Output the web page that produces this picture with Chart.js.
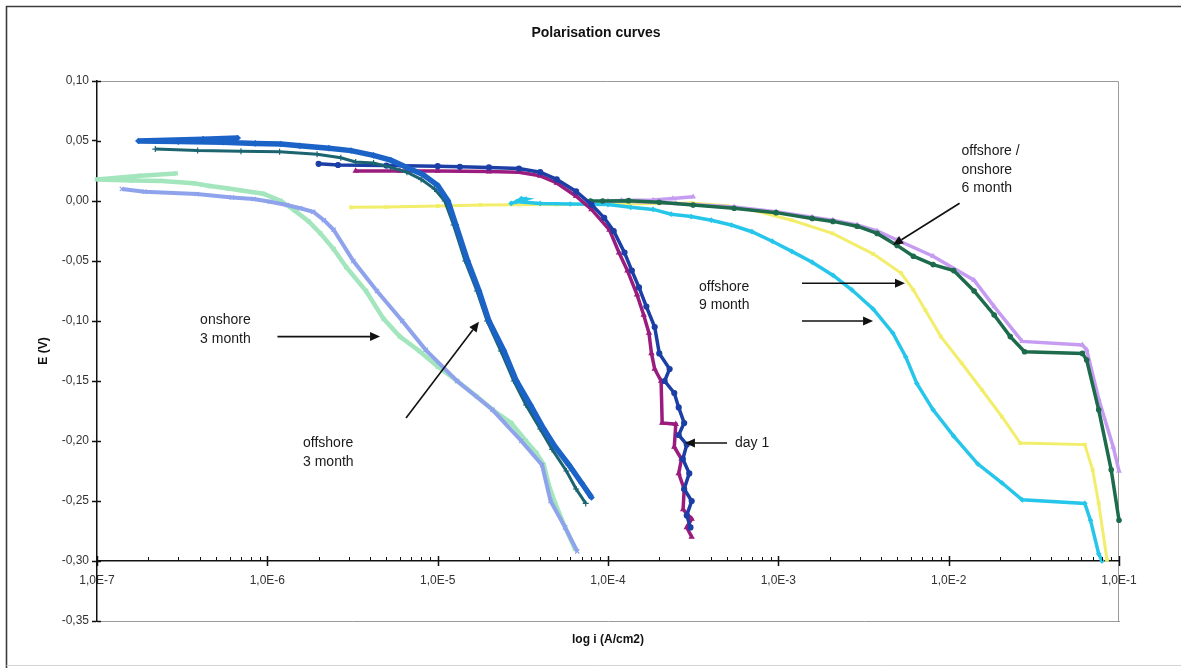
<!DOCTYPE html>
<html><head><meta charset="utf-8">
<script src="https://cdn.jsdelivr.net/npm/chart.js@4.4.1/dist/chart.umd.min.js"></script>
<style>html,body{margin:0;padding:0;background:#fff}#wrap{position:relative;width:1181px;height:668px}</style>
</head><body><div id="wrap"><canvas id="c" width="1181" height="668"></canvas></div>
<script>
const chartTitle = 'Polarisation curves';
const xAxisTitle = 'log i (A/cm2)';
const yAxisTitle = 'E (V)';
const xDecades = [1e-7, 1e-6, 1e-5, 1e-4, 1e-3, 1e-2, 1e-1];
const xTickLabels = ['1,0E-7', '1,0E-6', '1,0E-5', '1,0E-4', '1,0E-3', '1,0E-2', '1,0E-1'];
const yTickValues = [0.10, 0.05, 0.00, -0.05, -0.10, -0.15, -0.20, -0.25, -0.30, -0.35];
const yTickLabels = ['0,10', '0,05', '0,00', '-0,05', '-0,10', '-0,15', '-0,20', '-0,25', '-0,30', '-0,35'];
const xAxisCrossing = -0.30;

// onshore 3 month (two samples)
const onshore3A_i = [2.9e-7, 1.8e-7, 1.0e-7, 1.6e-7, 2.4e-7, 3.7e-7, 4.6e-7, 5.8e-7, 6.9e-7, 9.5e-7, 1.2e-6, 1.45e-6, 1.75e-6, 2.05e-6, 2.45e-6, 2.9e-6, 3.8e-6, 4.8e-6, 6.0e-6, 7.8e-6, 1.0e-5, 1.3e-5, 1.7e-5, 2.1e-5, 2.7e-5, 3.3e-5, 3.8e-5, 4.2e-5, 4.5e-5, 4.9e-5, 5.6e-5, 6.4e-5];
const onshore3A_E = [0.023, 0.021, 0.018, 0.017, 0.0167, 0.0147, 0.0125, 0.0106, 0.009, 0.006, 0.0, -0.008, -0.017, -0.027, -0.040, -0.055, -0.075, -0.098, -0.113, -0.125, -0.138, -0.150, -0.163, -0.174, -0.185, -0.200, -0.210, -0.220, -0.237, -0.252, -0.272, -0.290];
const onshore3B_i = [1.4e-7, 1.9e-7, 3.85e-7, 6.2e-7, 8.3e-7, 1.04e-6, 1.3e-6, 1.56e-6, 1.86e-6, 2.15e-6, 2.45e-6, 3.2e-6, 4.4e-6, 6.2e-6, 8.5e-6, 1.3e-5, 2.1e-5, 3.1e-5, 4.1e-5, 4.6e-5, 5.6e-5, 6.6e-5];
const onshore3B_E = [0.010, 0.0078, 0.0058, 0.003, 0.0017, -0.0006, -0.0033, -0.006, -0.009, -0.016, -0.024, -0.050, -0.075, -0.100, -0.124, -0.150, -0.174, -0.200, -0.220, -0.250, -0.272, -0.292];

// offshore 3 month (two samples)
const offshore3A_i = [6.7e-7, 4.2e-7, 1.75e-7, 3.0e-7, 5.5e-7, 8.5e-7, 1.2e-6, 1.55e-6, 2.3e-6, 3.1e-6, 4.2e-6, 5.3e-6, 6.6e-6, 8.2e-6, 1.0e-5, 1.15e-5, 1.28e-5, 1.5e-5, 1.75e-5, 2.0e-5, 2.45e-5, 2.9e-5, 3.5e-5, 4.2e-5, 4.9e-5, 5.9e-5, 7.0e-5, 8.0e-5];
const offshore3A_E = [0.0525, 0.0515, 0.050, 0.0495, 0.049, 0.048, 0.0475, 0.046, 0.044, 0.042, 0.038, 0.034, 0.028, 0.022, 0.013, 0.000, -0.020, -0.050, -0.075, -0.100, -0.125, -0.150, -0.170, -0.190, -0.205, -0.220, -0.235, -0.247];
const offshore3B_i = [2.2e-7, 3.9e-7, 7.0e-7, 1.18e-6, 1.96e-6, 2.7e-6, 3.3e-6, 4.2e-6, 5.3e-6, 6.6e-6, 8.0e-6, 9.6e-6, 1.1e-5, 1.24e-5, 1.45e-5, 1.7e-5, 1.95e-5, 2.35e-5, 2.8e-5, 3.3e-5, 4.0e-5, 4.7e-5, 5.7e-5, 6.5e-5, 7.4e-5];
const offshore3B_E = [0.0433, 0.042, 0.0415, 0.041, 0.039, 0.036, 0.0325, 0.0317, 0.028, 0.024, 0.018, 0.010, 0.000, -0.020, -0.050, -0.075, -0.100, -0.125, -0.150, -0.170, -0.190, -0.207, -0.225, -0.240, -0.252];

// day 1 (two samples)
const day1A_i = [2.0e-6, 2.6e-6, 5.0e-6, 1.0e-5, 1.35e-5, 2.0e-5, 3.0e-5, 4.0e-5, 5.0e-5, 6.5e-5, 8.0e-5, 9.5e-5, 1.08e-4, 1.25e-4, 1.38e-4, 1.52e-4, 1.68e-4, 1.88e-4, 2.0e-4, 2.3e-4, 2.15e-4, 2.45e-4, 2.6e-4, 2.8e-4, 2.6e-4, 2.9e-4, 2.75e-4, 3.0e-4, 2.8e-4, 3.1e-4, 2.9e-4, 3.05e-4];
const day1A_E = [0.031, 0.030, 0.0295, 0.029, 0.0285, 0.028, 0.027, 0.024, 0.018, 0.008, -0.003, -0.014, -0.025, -0.043, -0.058, -0.072, -0.088, -0.105, -0.127, -0.140, -0.150, -0.160, -0.172, -0.185, -0.195, -0.203, -0.215, -0.227, -0.240, -0.250, -0.262, -0.272];
const day1B_i = [3.3e-6, 6.0e-6, 1.0e-5, 2.0e-5, 3.0e-5, 4.0e-5, 5.0e-5, 6.5e-5, 8.0e-5, 1.02e-4, 1.16e-4, 1.3e-4, 1.48e-4, 1.62e-4, 1.74e-4, 1.8e-4, 1.88e-4, 2.05e-4, 2.08e-4, 2.5e-4, 2.45e-4, 2.7e-4, 2.6e-4, 2.8e-4, 2.76e-4, 3.1e-4, 2.9e-4, 3.1e-4];
const day1B_E = [0.025, 0.025, 0.025, 0.0245, 0.024, 0.021, 0.015, 0.004, -0.007, -0.024, -0.043, -0.058, -0.078, -0.095, -0.110, -0.127, -0.140, -0.150, -0.185, -0.186, -0.205, -0.215, -0.227, -0.240, -0.257, -0.265, -0.272, -0.280];

// offshore 9 month (two samples)
const offshore9A_i = [3.1e-6, 5.0e-6, 1.0e-5, 1.78e-5, 5.0e-5, 1.0e-4, 2.0e-4, 3.08e-4, 5.0e-4, 7.0e-4, 1.2e-3, 2.08e-3, 3.6e-3, 5.25e-3, 6.2e-3, 7.3e-3, 9.0e-3, 1.19e-2, 1.57e-2, 2.06e-2, 2.63e-2, 6.3e-2, 7.0e-2, 7.6e-2, 8.5e-2];
const offshore9A_E = [-0.0053, -0.005, -0.0042, -0.0033, -0.003, -0.0025, -0.002, -0.0017, -0.004, -0.0075, -0.016, -0.027, -0.044, -0.060, -0.074, -0.091, -0.113, -0.135, -0.1575, -0.180, -0.2017, -0.203, -0.224, -0.252, -0.299];
const offshore9B_i = [2.7e-5, 3.3e-5, 3.1e-5, 2.9e-5, 4.0e-5, 6.0e-5, 1.0e-4, 1.36e-4, 1.84e-4, 2.35e-4, 3.08e-4, 4.04e-4, 5.3e-4, 7.0e-4, 9.2e-4, 1.2e-3, 1.58e-3, 2.1e-3, 2.7e-3, 3.6e-3, 4.7e-3, 5.6e-3, 6.5e-3, 8.1e-3, 1.07e-2, 1.48e-2, 2.06e-2, 2.7e-2, 6.3e-2, 6.8e-2, 7.6e-2, 7.95e-2];
const offshore9B_E = [-0.002, 0.0015, 0.002, -0.0005, -0.002, -0.0025, -0.003, -0.0053, -0.007, -0.011, -0.013, -0.016, -0.020, -0.0256, -0.0335, -0.042, -0.051, -0.062, -0.074, -0.090, -0.110, -0.130, -0.152, -0.174, -0.196, -0.219, -0.235, -0.249, -0.252, -0.266, -0.294, -0.300];

// offshore / onshore 6 month (two samples)
const month6A_i = [7.9e-5, 9.3e-5, 1.32e-4, 2.0e-4, 3.16e-4, 5.5e-4, 9.7e-4, 1.58e-3, 2.09e-3, 2.9e-3, 3.8e-3, 4.98e-3, 6.2e-3, 8.1e-3, 1.07e-2, 1.41e-2, 1.85e-2, 2.3e-2, 2.79e-2, 6.1e-2, 6.46e-2, 7.6e-2, 9.0e-2, 1.0e-1];
const month6A_E = [0.0, 0.0, 0.0003, -0.001, -0.0033, -0.006, -0.0097, -0.0145, -0.017, -0.021, -0.027, -0.037, -0.046, -0.053, -0.058, -0.075, -0.095, -0.113, -0.1256, -0.127, -0.1325, -0.174, -0.224, -0.266];
const month6B_i = [3.16e-4, 2.4e-4, 1.84e-4, 1.2e-4, 1.0e-4, 1.5e-4, 2.5e-4, 5.5e-4, 9.7e-4, 1.58e-3, 2.09e-3, 2.9e-3, 3.8e-3, 4.98e-3, 8.1e-3, 1.41e-2, 1.85e-2, 2.7e-2, 6.1e-2, 6.46e-2, 7.6e-2, 9.25e-2, 1.0e-1];
const month6B_E = [0.0035, 0.002, 0.0008, 0.0005, 0.0, -0.0005, -0.002, -0.005, -0.009, -0.0135, -0.016, -0.020, -0.025, -0.0325, -0.046, -0.066, -0.088, -0.117, -0.120, -0.124, -0.165, -0.205, -0.225];

const series = [
  {label: 'offshore 3 month A', i: offshore3A_i, E: offshore3A_E, color: '#1b63c6', width: 5.5, style: 'rectRot', r: 2.5},
  {label: 'offshore 3 month B', i: offshore3B_i, E: offshore3B_E, color: '#1b6470', width: 3, style: 'cross', r: 3},
  {label: 'day 1 A', i: day1A_i, E: day1A_E, color: '#1c3fa6', width: 3.5, style: 'circle', r: 2.5},
  {label: 'day 1 B', i: day1B_i, E: day1B_E, color: '#9a1c7e', width: 3.5, style: 'triangle', r: 2.5},
  {label: 'offshore/onshore 6 month A', i: month6A_i, E: month6A_E, color: '#1d6b4c', width: 3.5, style: 'circle', r: 2.2},
  {label: 'offshore/onshore 6 month B', i: month6B_i, E: month6B_E, color: '#c59cf2', width: 3.5, style: 'triangle', r: 2.2},
  {label: 'offshore 9 month B', i: offshore9B_i, E: offshore9B_E, color: '#26c6ea', width: 3.5, style: 'rectRot', r: 2},
  {label: 'offshore 9 month A', i: offshore9A_i, E: offshore9A_E, color: '#f2ee6b', width: 3, style: 'rect', r: 1.8},
  {label: 'onshore 3 month B', i: onshore3B_i, E: onshore3B_E, color: '#8fa3ec', width: 4, style: 'crossRot', r: 3},
  {label: 'onshore 3 month A', i: onshore3A_i, E: onshore3A_E, color: '#a3e6bd', width: 4.5, style: 'rect', r: 2.2}
];

const FONT = "'Liberation Sans', Arial, Helvetica, sans-serif";
Chart.defaults.font.family = FONT;
Chart.defaults.color = '#222';

const notes = [
  {lines: ['onshore', '3 month'], i: 4.03e-7, E: [-0.0992, -0.115]},
  {lines: ['offshore', '3 month'], i: 1.62e-6, E: [-0.2014, -0.2173]},
  {lines: ['day 1'], i: 5.57e-4, E: [-0.2017]},
  {lines: ['offshore', '9 month'], i: 3.42e-4, E: [-0.0714, -0.0867]},
  {lines: ['offshore /', 'onshore', '6 month'], i: 1.19e-2, E: [0.0419, 0.0258, 0.0106]}
];
const arrows = [
  {from: [1.147e-6, -0.113], to: [4.59e-6, -0.113]},
  {from: [6.52e-6, -0.1808], to: [1.748e-5, -0.1006]},
  {from: [5.0e-4, -0.2017], to: [2.83e-4, -0.2017]},
  {from: [1.377e-3, -0.0686], to: [5.54e-3, -0.0686]},
  {from: [1.377e-3, -0.100], to: [3.6e-3, -0.100]},
  {from: [1.159e-2, -0.0019], to: [4.71e-3, -0.0367]}
];

const xTickValues = [];
xDecades.forEach(d => { for (let m = 1; m <= 9; m++) { if (d * m <= 0.1000001) xTickValues.push(d * m); } });

function decadeLabel(v) {
  const k = xDecades.findIndex(d => Math.abs(Math.log10(d) - Math.log10(v)) < 1e-6);
  return k >= 0 ? xTickLabels[k] : '';
}

const decor = {
  id: 'decor',
  beforeDraw(chart) {
    const c = chart.ctx, a = chart.chartArea;
    c.save();
    c.fillStyle = '#fff'; c.fillRect(0, 0, chart.width, chart.height);
    c.strokeStyle = '#3c3c3c'; c.lineWidth = 1.6;
    c.beginPath(); c.moveTo(6.5, chart.height); c.lineTo(6.5, 6.5); c.lineTo(chart.width, 6.5); c.stroke();
    c.strokeStyle = '#d4d4d4'; c.lineWidth = 1;
    c.beginPath(); c.moveTo(6.5, 665.5); c.lineTo(chart.width, 665.5); c.stroke();
    c.strokeStyle = '#9a9a9a'; c.lineWidth = 1;
    c.beginPath(); c.moveTo(a.left, a.top + 0.5); c.lineTo(a.right - 0.5, a.top + 0.5); c.lineTo(a.right - 0.5, a.bottom); c.stroke();
    c.fillStyle = '#111'; c.font = 'bold 14px ' + FONT; c.textAlign = 'center'; c.textBaseline = 'middle';
    c.fillText(chartTitle, 596, 33);
    c.restore();
  },
  afterDraw(chart) {
    const c = chart.ctx, xs = chart.scales.x, ys = chart.scales.y;
    c.save();
    // tick marks: x minor ticks point up, majors cross the axis; y ticks cross the axis
    const y0 = ys.getPixelForValue(xAxisCrossing);
    c.strokeStyle = '#111';
    xTickValues.forEach(v => {
      const px = Math.round(xs.getPixelForValue(v)) + 0.5;
      const major = decadeLabel(v) !== '';
      c.lineWidth = major ? 1.5 : 1;
      c.beginPath(); c.moveTo(px, y0 - (major ? 5 : 4)); c.lineTo(px, y0 + (major ? 5 : 0)); c.stroke();
    });
    const x0 = xs.getPixelForValue(1e-7);
    c.lineWidth = 1.5;
    yTickValues.forEach(v => {
      const py = Math.round(ys.getPixelForValue(v)) + 0.5;
      c.beginPath(); c.moveTo(x0, py); c.lineTo(x0 + 4, py); c.stroke();
    });
    // annotations
    c.fillStyle = '#1a1a1a'; c.font = '14px ' + FONT; c.textAlign = 'left'; c.textBaseline = 'middle';
    notes.forEach(n => n.lines.forEach((t, k) => c.fillText(t, xs.getPixelForValue(n.i), ys.getPixelForValue(n.E[k]))));
    c.strokeStyle = '#111'; c.fillStyle = '#111'; c.lineWidth = 1.6;
    arrows.forEach(ar => {
      const x1 = xs.getPixelForValue(ar.from[0]), y1 = ys.getPixelForValue(ar.from[1]);
      const x2 = xs.getPixelForValue(ar.to[0]), y2 = ys.getPixelForValue(ar.to[1]);
      const ang = Math.atan2(y2 - y1, x2 - x1), L = 10, W = 4.5;
      const bx = x2 - L * Math.cos(ang), by = y2 - L * Math.sin(ang);
      c.beginPath(); c.moveTo(x1, y1); c.lineTo(bx, by); c.stroke();
      c.beginPath(); c.moveTo(x2, y2);
      c.lineTo(bx + W * Math.sin(ang), by - W * Math.cos(ang));
      c.lineTo(bx - W * Math.sin(ang), by + W * Math.cos(ang));
      c.closePath(); c.fill();
    });
    c.restore();
  }
};

new Chart(document.getElementById('c'), {
  type: 'scatter',
  data: {
    datasets: series.map(s => ({
      label: s.label,
      data: s.i.map((v, k) => ({x: v, y: s.E[k]})),
      showLine: true,
      borderColor: s.color,
      backgroundColor: s.color,
      borderWidth: s.width,
      pointStyle: s.style,
      pointRadius: s.r,
      pointBorderWidth: 1.2,
      pointBorderColor: s.color,
      pointBackgroundColor: s.color,
      tension: 0,
      clip: false
    }))
  },
  options: {
    responsive: false,
    animation: false,
    devicePixelRatio: 1,
    layout: {padding: {left: 0, top: 81, right: 62, bottom: 0}},
    plugins: {legend: {display: false}, tooltip: {enabled: false}, title: {display: false}},
    scales: {
      x: {
        type: 'logarithmic', min: 1e-7, max: 1e-1,
        position: {y: xAxisCrossing},
        afterBuildTicks: s => { s.ticks = xTickValues.map(v => ({value: v})); },
        ticks: {autoSkip: false, maxRotation: 0, minRotation: 0, padding: 12, color: '#333', font: {size: 12},
          callback: v => decadeLabel(v)},
        grid: {display: false, drawOnChartArea: false, drawTicks: false},
        border: {display: true, color: '#111', width: 1.5}
      },
      xb: {
        axis: 'x', type: 'logarithmic', min: 1e-7, max: 1e-1, position: 'bottom',
        ticks: {display: false},
        grid: {display: false, drawTicks: false},
        border: {display: true, color: '#9a9a9a', width: 1},
        title: {display: true, text: xAxisTitle, color: '#111', font: {size: 12, weight: 'bold'}, padding: {top: 0, bottom: 21}},
        afterFit: s => { s.height = 47; }
      },
      y: {
        type: 'linear', min: -0.35, max: 0.10, position: 'left',
        afterBuildTicks: s => { s.ticks = yTickValues.map(v => ({value: v})); },
        ticks: {autoSkip: false, padding: 3, color: '#333', font: {size: 12},
          callback: v => { const k = yTickValues.findIndex(t => Math.abs(t - v) < 1e-9); return k >= 0 ? yTickLabels[k] : ''; }},
        grid: {display: true, drawOnChartArea: false, drawTicks: true, tickLength: 5, color: '#111', tickWidth: 1.5},
        border: {display: true, color: '#111', width: 1.5},
        title: {display: true, text: yAxisTitle, color: '#111', font: {size: 12, weight: 'bold'}, padding: {top: 36, bottom: 0}},
        afterFit: s => { s.width = 97; }
      }
    }
  },
  plugins: [decor]
});
</script></body></html>
